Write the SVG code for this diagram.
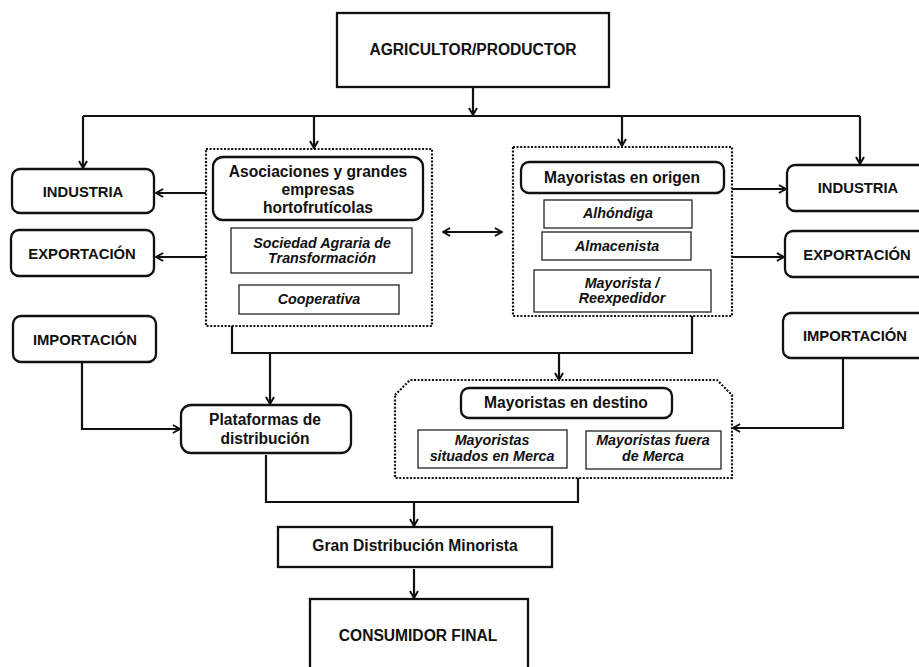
<svg xmlns="http://www.w3.org/2000/svg" width="919" height="667" viewBox="0 0 919 667">
  <style>
    text { font-family: "Liberation Sans", Arial, sans-serif; font-weight: bold; fill: #111; text-anchor: middle; }
    .caps { font-size: 14.8px; }
    .main { font-size: 15.6px; }
    .it { font-size: 14.3px; font-style: italic; }
    .box { fill: #fff; stroke: #111; stroke-width: 2.3; }
    .sub { fill: #fff; stroke: #222; stroke-width: 1.3; }
    .group { fill: none; stroke: #111; stroke-width: 2.2; stroke-dasharray: 2 1.6; }
    .line { fill: none; stroke: #111; stroke-width: 2.2; }
  </style>
  <defs>
    <marker id="arrow" viewBox="0 0 10 10" refX="8.6" refY="5" markerWidth="10" markerHeight="10" markerUnits="userSpaceOnUse" orient="auto-start-reverse">
      <path d="M1.5,1 L8.5,5 L1.5,9" fill="none" stroke="#111" stroke-width="2"/>
    </marker>
  </defs>

  <!-- grouping frames -->
  <g id="frame-asociaciones">
    <rect class="group" x="206" y="149" width="226" height="177"/>
  </g>
  <g id="frame-origen">
    <rect class="group" x="513" y="147" width="219" height="169"/>
  </g>
  <g id="frame-destino">
    <path class="group" d="M395,395 L410,380 L717,380 L732,395 L732,478 L395,478 Z"/>
  </g>

  <!-- connectors -->
  <g id="connectors">
    <line class="line" x1="473" y1="87" x2="473" y2="115" marker-end="url(#arrow)"/>
    <line class="line" x1="83" y1="116" x2="860" y2="116"/>
    <line class="line" x1="83" y1="116" x2="83" y2="168" marker-end="url(#arrow)"/>
    <line class="line" x1="314" y1="116" x2="314" y2="148" marker-end="url(#arrow)"/>
    <line class="line" x1="622" y1="116" x2="622" y2="146" marker-end="url(#arrow)"/>
    <line class="line" x1="860" y1="116" x2="860" y2="164" marker-end="url(#arrow)"/>
    <line class="line" x1="206" y1="193" x2="156" y2="193" marker-end="url(#arrow)"/>
    <line class="line" x1="206" y1="257" x2="156" y2="257" marker-end="url(#arrow)"/>
    <line class="line" x1="443" y1="232" x2="502" y2="232" marker-start="url(#arrow)" marker-end="url(#arrow)"/>
    <line class="line" x1="732" y1="189" x2="786" y2="189" marker-end="url(#arrow)"/>
    <line class="line" x1="732" y1="257" x2="784" y2="257" marker-end="url(#arrow)"/>
    <polyline class="line" points="232,326 232,353 692,353 692,316"/>
    <line class="line" x1="270" y1="353" x2="270" y2="404" marker-end="url(#arrow)"/>
    <line class="line" x1="559" y1="353" x2="559" y2="380" marker-end="url(#arrow)"/>
    <polyline class="line" points="82,362 82,429 180,429" marker-end="url(#arrow)"/>
    <polyline class="line" points="843,358 843,428 733,428" marker-end="url(#arrow)"/>
    <polyline class="line" points="266,455 266,502 578,502 578,478"/>
    <line class="line" x1="414" y1="502" x2="414" y2="526" marker-end="url(#arrow)"/>
    <line class="line" x1="414" y1="569" x2="414" y2="598" marker-end="url(#arrow)"/>
  </g>

  <!-- nodes -->
  <g id="agricultor">
    <rect class="box" x="337" y="13" width="272" height="74"/>
    <text class="main" x="473" y="55">AGRICULTOR/PRODUCTOR</text>
  </g>
  <g id="industria-left">
    <rect class="box" x="12" y="169" width="142" height="44" rx="8"/>
    <text class="caps" x="83" y="197">INDUSTRIA</text>
  </g>
  <g id="exportacion-left">
    <rect class="box" x="11" y="230" width="143" height="46" rx="8"/>
    <text class="caps" x="82" y="259">EXPORTACIÓN</text>
  </g>
  <g id="importacion-left">
    <rect class="box" x="13" y="316" width="143" height="46" rx="8"/>
    <text class="caps" x="85" y="345">IMPORTACIÓN</text>
  </g>

  <g id="asociaciones">
    <rect class="box" x="213" y="157" width="210" height="63" rx="10"/>
    <text class="main" x="318" y="177">Asociaciones y grandes</text>
    <text class="main" x="318" y="195">empresas</text>
    <text class="main" x="318" y="213">hortofrutícolas</text>
  </g>
  <g id="sociedad-agraria">
    <rect class="sub" x="231" y="228" width="181" height="45"/>
    <text class="it" x="322" y="248">Sociedad Agraria de</text>
    <text class="it" x="322" y="263">Transformación</text>
  </g>
  <g id="cooperativa">
    <rect class="sub" x="239" y="285" width="160" height="29"/>
    <text class="it" x="319" y="304">Cooperativa</text>
  </g>

  <g id="mayoristas-origen">
    <rect class="box" x="521" y="162" width="203" height="31" rx="8"/>
    <text class="main" x="622" y="183">Mayoristas en origen</text>
  </g>
  <g id="alhondiga">
    <rect class="sub" x="544" y="200" width="148" height="28"/>
    <text class="it" x="618" y="218">Alhóndiga</text>
  </g>
  <g id="almacenista">
    <rect class="sub" x="542" y="232" width="149" height="28"/>
    <text class="it" x="617" y="251">Almacenista</text>
  </g>
  <g id="reexpedidor">
    <rect class="sub" x="534" y="270" width="177" height="42"/>
    <text class="it" x="622" y="288">Mayorista /</text>
    <text class="it" x="622" y="303">Reexpedidor</text>
  </g>

  <g id="industria-right">
    <rect class="box" x="787" y="165" width="150" height="46" rx="8"/>
    <text class="caps" x="858" y="193">INDUSTRIA</text>
  </g>
  <g id="exportacion-right">
    <rect class="box" x="785" y="231" width="150" height="46" rx="8"/>
    <text class="caps" x="857" y="260">EXPORTACIÓN</text>
  </g>
  <g id="importacion-right">
    <rect class="box" x="783" y="313" width="150" height="45" rx="8"/>
    <text class="caps" x="855" y="341">IMPORTACIÓN</text>
  </g>

  <g id="plataformas">
    <rect class="box" x="181" y="405" width="170" height="48" rx="10"/>
    <text class="main" x="265" y="425">Plataformas de</text>
    <text class="main" x="265" y="444">distribución</text>
  </g>

  <g id="mayoristas-destino">
    <rect class="box" x="461" y="388" width="211" height="30" rx="8"/>
    <text class="main" x="566" y="408">Mayoristas en destino</text>
  </g>
  <g id="situados-merca">
    <rect class="sub" x="418" y="430" width="149" height="38"/>
    <text class="it" x="492" y="445">Mayoristas</text>
    <text class="it" x="492" y="461">situados en Merca</text>
  </g>
  <g id="fuera-merca">
    <rect class="sub" x="586" y="431" width="135" height="38"/>
    <text class="it" x="653" y="445">Mayoristas fuera</text>
    <text class="it" x="653" y="461">de Merca</text>
  </g>

  <g id="gran-distribucion">
    <rect class="box" x="278" y="527" width="274" height="40"/>
    <text class="main" x="415" y="551">Gran Distribución Minorista</text>
  </g>
  <g id="consumidor">
    <rect class="box" x="310" y="599" width="218" height="90"/>
    <text class="main" x="418" y="641">CONSUMIDOR FINAL</text>
  </g>
</svg>
